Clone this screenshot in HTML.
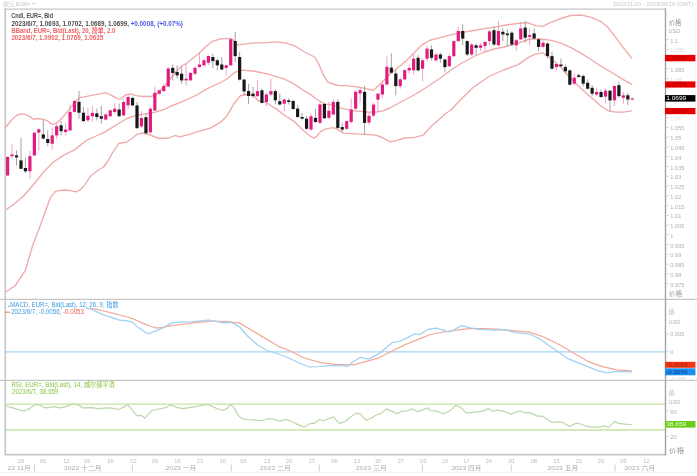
<!DOCTYPE html>
<html><head><meta charset="utf-8"><style>
html,body{margin:0;padding:0;background:#fff;overflow:hidden;width:697px;height:476px}
svg{display:block;filter:blur(0.25px)}
</style></head><body>
<svg width="697" height="476" viewBox="0 0 697 476" font-family='"Liberation Sans", "Noto Sans CJK SC", sans-serif'>
<rect width="697" height="476" fill="#fff"/>
<text x="3.4" y="5.7" font-size="5.2" fill="#c4c4c4" textLength="27" lengthAdjust="spacingAndGlyphs">欧元 EUR=</text>
<path d="M32 3.6h3.6" stroke="#cfcfcf" stroke-width="0.9"/>
<text x="612.8" y="5.6" font-size="5.2" fill="#c8c8c8" textLength="80.5" lengthAdjust="spacingAndGlyphs">2022/11/23 - 2023/06/16 (GMT)</text>
<polyline points="5.0,128.0 8.6,123.7 12.9,118.5 17.2,115.1 20.7,113.8 25.9,114.7 30.2,116.8 33.6,119.4 37.9,118.5 43.1,119.4 47.4,120.7 51.7,124.1 55.0,124.0 60.0,120.3 65.1,114.4 70.0,108.5 75.0,102.5 79.4,97.6 84.4,96.8 92.8,95.1 100.0,93.9 105.2,92.6 111.2,95.2 117.2,98.7 120.7,99.1 125.8,94.8 130.1,93.9 136.1,95.6 143.0,96.5 149.9,96.5 155.5,95.4 165.6,85.0 175.0,72.5 182.3,65.5 186.2,63.6 192.6,58.4 199.1,53.3 205.6,46.8 212.0,41.6 219.8,39.0 227.5,38.4 232.7,39.5 237.2,45.2 243.9,44.2 253.9,42.8 265.1,42.8 275.1,41.8 285.2,42.8 295.3,46.2 305.4,52.5 311.4,55.5 314.6,57.0 318.5,63.6 322.3,72.6 327.5,82.0 334.6,84.5 340.0,85.6 345.9,85.6 356.9,86.9 365.0,88.3 373.3,90.5 381.4,82.8 389.6,74.6 397.8,67.8 406.0,61.0 414.2,52.8 422.4,44.6 429.3,40.5 440.9,37.3 451.9,34.6 462.8,32.4 473.7,30.5 484.6,28.6 495.6,26.9 506.5,25.0 517.4,23.5 527.3,22.6 536.7,25.9 542.7,26.4 550.2,22.6 560.3,18.8 570.4,15.5 580.5,15.0 590.6,17.1 600.7,21.3 608.2,27.6 615.8,37.7 623.4,47.8 632.0,58.7" fill="none" stroke="#f0aaaa" stroke-width="1.35" stroke-linejoin="round"/>
<polyline points="5.0,210.5 13.4,204.5 23.5,196.0 33.6,184.5 43.7,171.9 53.7,161.8 63.8,155.1 73.9,150.1 86.8,140.2 95.0,136.5 103.6,132.6 112.0,127.6 120.4,122.5 127.0,118.5 135.4,115.6 145.4,113.9 155.5,112.2 165.6,108.8 170.0,106.5 182.9,101.3 195.8,95.5 208.8,87.8 221.7,82.0 228.1,78.1 234.6,72.3 242.4,70.1 252.7,71.0 257.9,72.0 266.8,73.8 275.7,76.4 284.6,79.1 293.6,83.6 302.5,89.8 311.4,95.2 318.6,100.5 325.7,104.1 332.9,105.0 340.0,107.9 354.3,110.8 367.8,112.0 375.9,112.2 383.0,110.8 390.0,108.0 397.0,104.0 404.6,100.0 411.5,96.5 422.4,90.0 430.0,85.0 441.0,77.5 451.0,70.0 462.0,63.0 474.1,56.5 483.0,52.5 494.0,49.0 504.0,47.0 518.2,43.2 530.0,39.0 540.2,39.0 550.2,40.2 560.3,42.8 570.4,47.3 580.5,52.9 590.6,59.2 600.7,66.0 610.7,71.8 620.8,78.1 632.0,84.7" fill="none" stroke="#f0aaaa" stroke-width="1.35" stroke-linejoin="round"/>
<polyline points="5.0,292.5 15.1,285.8 25.2,270.7 32.7,245.5 40.3,225.4 50.4,197.6 55.4,191.3 60.0,190.3 65.5,190.0 70.5,190.7 75.6,191.8 80.0,190.0 84.0,186.0 90.2,176.5 97.0,171.0 103.6,167.0 108.0,161.0 112.0,153.6 118.7,143.5 127.1,141.8 132.0,138.5 137.2,134.3 142.1,133.0 148.8,134.5 158.9,138.5 168.9,138.0 175.0,135.5 180.0,136.9 190.1,134.2 200.2,130.8 210.3,128.1 220.4,122.4 227.1,115.7 233.8,104.0 240.5,95.6 245.6,94.5 253.9,95.6 257.9,100.5 265.1,102.0 275.7,108.6 285.2,115.7 293.6,121.1 305.0,132.0 310.0,136.0 314.1,138.1 317.0,136.0 320.1,132.1 325.1,129.1 333.2,127.6 337.2,129.1 343.2,133.1 351.5,133.7 364.4,134.4 375.9,135.2 383.0,138.0 390.2,141.9 397.4,140.2 404.6,138.0 414.6,137.3 423.2,135.2 431.8,125.8 440.0,118.7 445.0,114.0 451.5,109.5 459.4,101.0 472.5,88.0 488.8,76.5 503.5,70.0 518.2,64.6 527.6,57.9 535.1,54.1 542.7,52.9 550.2,57.9 560.3,66.7 570.4,78.1 580.5,88.1 590.6,97.0 600.7,105.8 608.2,110.8 615.8,112.1 623.4,112.1 632.0,110.9" fill="none" stroke="#f0aaaa" stroke-width="1.35" stroke-linejoin="round"/>
<line x1="7.60" y1="156.0" x2="7.60" y2="176.0" stroke="#ee8cbc" stroke-width="0.8"/>
<rect x="6.00" y="157.0" width="3.2" height="18.5" fill="#e21c7e"/>
<line x1="12.06" y1="144.5" x2="12.06" y2="158.7" stroke="#ee8cbc" stroke-width="0.8"/>
<rect x="10.46" y="154.5" width="3.2" height="1.7" fill="#e21c7e"/>
<line x1="16.52" y1="150.3" x2="16.52" y2="165.5" stroke="#8c8c8c" stroke-width="0.8"/>
<rect x="14.92" y="155.4" width="3.2" height="2.0" fill="#181818"/>
<line x1="20.99" y1="137.7" x2="20.99" y2="168.8" stroke="#8c8c8c" stroke-width="0.8"/>
<rect x="19.39" y="160.4" width="3.2" height="8.4" fill="#181818"/>
<line x1="25.45" y1="158.0" x2="25.45" y2="173.0" stroke="#8c8c8c" stroke-width="0.8"/>
<rect x="23.85" y="168.0" width="3.2" height="3.3" fill="#181818"/>
<line x1="29.91" y1="151.0" x2="29.91" y2="179.0" stroke="#ee8cbc" stroke-width="0.8"/>
<rect x="28.31" y="156.2" width="3.2" height="15.1" fill="#e21c7e"/>
<line x1="34.37" y1="132.0" x2="34.37" y2="156.0" stroke="#ee8cbc" stroke-width="0.8"/>
<rect x="32.77" y="132.7" width="3.2" height="22.7" fill="#e21c7e"/>
<line x1="38.83" y1="128.5" x2="38.83" y2="151.0" stroke="#ee8cbc" stroke-width="0.8"/>
<rect x="37.23" y="129.3" width="3.2" height="3.4" fill="#e21c7e"/>
<line x1="43.30" y1="120.0" x2="43.30" y2="139.4" stroke="#8c8c8c" stroke-width="0.8"/>
<rect x="41.70" y="134.4" width="3.2" height="4.2" fill="#181818"/>
<line x1="47.76" y1="130.4" x2="47.76" y2="146.3" stroke="#8c8c8c" stroke-width="0.8"/>
<rect x="46.16" y="139.0" width="3.2" height="4.0" fill="#181818"/>
<line x1="52.22" y1="127.9" x2="52.22" y2="149.7" stroke="#ee8cbc" stroke-width="0.8"/>
<rect x="50.62" y="135.4" width="3.2" height="8.4" fill="#e21c7e"/>
<line x1="56.68" y1="123.5" x2="56.68" y2="138.8" stroke="#ee8cbc" stroke-width="0.8"/>
<rect x="55.08" y="126.2" width="3.2" height="9.2" fill="#e21c7e"/>
<line x1="61.15" y1="121.0" x2="61.15" y2="135.4" stroke="#8c8c8c" stroke-width="0.8"/>
<rect x="59.55" y="125.3" width="3.2" height="5.9" fill="#181818"/>
<line x1="65.61" y1="122.8" x2="65.61" y2="135.4" stroke="#ee8cbc" stroke-width="0.8"/>
<rect x="64.01" y="129.5" width="3.2" height="2.5" fill="#e21c7e"/>
<line x1="70.07" y1="104.3" x2="70.07" y2="131.2" stroke="#ee8cbc" stroke-width="0.8"/>
<rect x="68.47" y="111.9" width="3.2" height="18.5" fill="#e21c7e"/>
<line x1="74.53" y1="99.3" x2="74.53" y2="112.7" stroke="#ee8cbc" stroke-width="0.8"/>
<rect x="72.93" y="101.0" width="3.2" height="10.9" fill="#e21c7e"/>
<line x1="78.99" y1="90.9" x2="78.99" y2="118.6" stroke="#8c8c8c" stroke-width="0.8"/>
<rect x="77.39" y="101.8" width="3.2" height="10.9" fill="#181818"/>
<line x1="83.46" y1="106.8" x2="83.46" y2="122.0" stroke="#8c8c8c" stroke-width="0.8"/>
<rect x="81.86" y="112.7" width="3.2" height="8.4" fill="#181818"/>
<line x1="87.92" y1="107.8" x2="87.92" y2="122.0" stroke="#ee8cbc" stroke-width="0.8"/>
<rect x="86.32" y="115.8" width="3.2" height="4.5" fill="#e21c7e"/>
<line x1="92.38" y1="106.0" x2="92.38" y2="122.0" stroke="#ee8cbc" stroke-width="0.8"/>
<rect x="90.78" y="112.9" width="3.2" height="3.3" fill="#e21c7e"/>
<line x1="96.84" y1="108.7" x2="96.84" y2="120.4" stroke="#8c8c8c" stroke-width="0.8"/>
<rect x="95.24" y="113.4" width="3.2" height="3.6" fill="#181818"/>
<line x1="101.30" y1="106.0" x2="101.30" y2="123.8" stroke="#8c8c8c" stroke-width="0.8"/>
<rect x="99.70" y="116.2" width="3.2" height="2.5" fill="#181818"/>
<line x1="105.77" y1="112.8" x2="105.77" y2="120.4" stroke="#ee8cbc" stroke-width="0.8"/>
<rect x="104.17" y="114.5" width="3.2" height="5.1" fill="#e21c7e"/>
<line x1="110.23" y1="109.5" x2="110.23" y2="117.0" stroke="#ee8cbc" stroke-width="0.8"/>
<rect x="108.63" y="110.3" width="3.2" height="5.9" fill="#e21c7e"/>
<line x1="114.69" y1="102.8" x2="114.69" y2="113.7" stroke="#ee8cbc" stroke-width="0.8"/>
<rect x="113.09" y="108.7" width="3.2" height="3.3" fill="#e21c7e"/>
<line x1="119.15" y1="103.6" x2="119.15" y2="117.0" stroke="#8c8c8c" stroke-width="0.8"/>
<rect x="117.55" y="109.5" width="3.2" height="6.7" fill="#181818"/>
<line x1="123.62" y1="99.4" x2="123.62" y2="116.2" stroke="#ee8cbc" stroke-width="0.8"/>
<rect x="122.02" y="102.0" width="3.2" height="13.4" fill="#e21c7e"/>
<line x1="128.08" y1="94.4" x2="128.08" y2="109.5" stroke="#ee8cbc" stroke-width="0.8"/>
<rect x="126.48" y="97.0" width="3.2" height="8.3" fill="#e21c7e"/>
<line x1="132.54" y1="97.0" x2="132.54" y2="106.3" stroke="#8c8c8c" stroke-width="0.8"/>
<rect x="130.94" y="97.9" width="3.2" height="7.5" fill="#181818"/>
<line x1="137.00" y1="102.0" x2="137.00" y2="129.0" stroke="#8c8c8c" stroke-width="0.8"/>
<rect x="135.40" y="105.4" width="3.2" height="22.7" fill="#181818"/>
<line x1="141.46" y1="111.3" x2="141.46" y2="128.1" stroke="#ee8cbc" stroke-width="0.8"/>
<rect x="139.86" y="118.0" width="3.2" height="8.4" fill="#e21c7e"/>
<line x1="145.93" y1="113.0" x2="145.93" y2="134.0" stroke="#8c8c8c" stroke-width="0.8"/>
<rect x="144.33" y="117.2" width="3.2" height="16.0" fill="#181818"/>
<line x1="150.39" y1="107.0" x2="150.39" y2="134.0" stroke="#ee8cbc" stroke-width="0.8"/>
<rect x="148.79" y="108.8" width="3.2" height="23.5" fill="#e21c7e"/>
<line x1="154.85" y1="87.0" x2="154.85" y2="111.0" stroke="#ee8cbc" stroke-width="0.8"/>
<rect x="153.25" y="92.8" width="3.2" height="17.7" fill="#e21c7e"/>
<line x1="159.31" y1="89.5" x2="159.31" y2="95.3" stroke="#ee8cbc" stroke-width="0.8"/>
<rect x="157.71" y="90.3" width="3.2" height="3.4" fill="#e21c7e"/>
<line x1="163.77" y1="83.6" x2="163.77" y2="92.0" stroke="#ee8cbc" stroke-width="0.8"/>
<rect x="162.17" y="86.0" width="3.2" height="5.1" fill="#e21c7e"/>
<line x1="168.24" y1="66.8" x2="168.24" y2="87.5" stroke="#ee8cbc" stroke-width="0.8"/>
<rect x="166.64" y="68.5" width="3.2" height="18.0" fill="#e21c7e"/>
<line x1="172.70" y1="64.5" x2="172.70" y2="80.4" stroke="#8c8c8c" stroke-width="0.8"/>
<rect x="171.10" y="67.8" width="3.2" height="5.1" fill="#181818"/>
<line x1="177.16" y1="65.3" x2="177.16" y2="78.7" stroke="#8c8c8c" stroke-width="0.8"/>
<rect x="175.56" y="72.0" width="3.2" height="3.4" fill="#181818"/>
<line x1="181.62" y1="66.0" x2="181.62" y2="83.8" stroke="#8c8c8c" stroke-width="0.8"/>
<rect x="180.02" y="73.7" width="3.2" height="6.7" fill="#181818"/>
<line x1="186.09" y1="63.6" x2="186.09" y2="85.5" stroke="#ee8cbc" stroke-width="0.8"/>
<rect x="184.49" y="78.7" width="3.2" height="1.7" fill="#e21c7e"/>
<line x1="190.55" y1="72.0" x2="190.55" y2="80.4" stroke="#ee8cbc" stroke-width="0.8"/>
<rect x="188.95" y="72.9" width="3.2" height="7.5" fill="#e21c7e"/>
<line x1="195.01" y1="66.2" x2="195.01" y2="75.4" stroke="#ee8cbc" stroke-width="0.8"/>
<rect x="193.41" y="67.8" width="3.2" height="5.9" fill="#e21c7e"/>
<line x1="199.47" y1="52.7" x2="199.47" y2="67.8" stroke="#ee8cbc" stroke-width="0.8"/>
<rect x="197.87" y="64.5" width="3.2" height="2.5" fill="#e21c7e"/>
<line x1="203.93" y1="58.6" x2="203.93" y2="67.0" stroke="#ee8cbc" stroke-width="0.8"/>
<rect x="202.33" y="60.3" width="3.2" height="5.0" fill="#e21c7e"/>
<line x1="208.40" y1="55.2" x2="208.40" y2="65.3" stroke="#ee8cbc" stroke-width="0.8"/>
<rect x="206.80" y="56.0" width="3.2" height="6.8" fill="#e21c7e"/>
<line x1="212.86" y1="53.6" x2="212.86" y2="67.9" stroke="#8c8c8c" stroke-width="0.8"/>
<rect x="211.26" y="57.0" width="3.2" height="4.1" fill="#181818"/>
<line x1="217.32" y1="58.6" x2="217.32" y2="70.4" stroke="#8c8c8c" stroke-width="0.8"/>
<rect x="215.72" y="60.3" width="3.2" height="5.0" fill="#181818"/>
<line x1="221.78" y1="57.0" x2="221.78" y2="70.4" stroke="#8c8c8c" stroke-width="0.8"/>
<rect x="220.18" y="64.5" width="3.2" height="5.0" fill="#181818"/>
<line x1="226.24" y1="64.5" x2="226.24" y2="75.4" stroke="#ee8cbc" stroke-width="0.8"/>
<rect x="224.64" y="65.3" width="3.2" height="2.6" fill="#e21c7e"/>
<line x1="230.71" y1="37.6" x2="230.71" y2="66.2" stroke="#ee8cbc" stroke-width="0.8"/>
<rect x="229.11" y="39.3" width="3.2" height="26.0" fill="#e21c7e"/>
<line x1="235.17" y1="31.7" x2="235.17" y2="62.0" stroke="#8c8c8c" stroke-width="0.8"/>
<rect x="233.57" y="41.0" width="3.2" height="15.1" fill="#181818"/>
<line x1="239.63" y1="51.9" x2="239.63" y2="80.5" stroke="#8c8c8c" stroke-width="0.8"/>
<rect x="238.03" y="57.0" width="3.2" height="22.6" fill="#181818"/>
<line x1="244.09" y1="78.8" x2="244.09" y2="95.6" stroke="#8c8c8c" stroke-width="0.8"/>
<rect x="242.49" y="79.6" width="3.2" height="11.8" fill="#181818"/>
<line x1="248.56" y1="84.0" x2="248.56" y2="104.0" stroke="#8c8c8c" stroke-width="0.8"/>
<rect x="246.96" y="91.0" width="3.2" height="5.0" fill="#181818"/>
<line x1="253.02" y1="86.9" x2="253.02" y2="97.8" stroke="#8c8c8c" stroke-width="0.8"/>
<rect x="251.42" y="93.6" width="3.2" height="2.5" fill="#181818"/>
<line x1="257.48" y1="80.2" x2="257.48" y2="97.0" stroke="#ee8cbc" stroke-width="0.8"/>
<rect x="255.88" y="91.1" width="3.2" height="5.0" fill="#e21c7e"/>
<line x1="261.94" y1="88.6" x2="261.94" y2="103.7" stroke="#8c8c8c" stroke-width="0.8"/>
<rect x="260.34" y="90.3" width="3.2" height="12.6" fill="#181818"/>
<line x1="266.40" y1="92.8" x2="266.40" y2="106.2" stroke="#ee8cbc" stroke-width="0.8"/>
<rect x="264.80" y="94.5" width="3.2" height="7.5" fill="#e21c7e"/>
<line x1="270.87" y1="78.5" x2="270.87" y2="96.1" stroke="#ee8cbc" stroke-width="0.8"/>
<rect x="269.27" y="91.1" width="3.2" height="3.4" fill="#e21c7e"/>
<line x1="275.33" y1="89.4" x2="275.33" y2="104.5" stroke="#8c8c8c" stroke-width="0.8"/>
<rect x="273.73" y="91.1" width="3.2" height="9.2" fill="#181818"/>
<line x1="279.79" y1="93.6" x2="279.79" y2="105.4" stroke="#8c8c8c" stroke-width="0.8"/>
<rect x="278.19" y="101.2" width="3.2" height="3.3" fill="#181818"/>
<line x1="284.25" y1="98.7" x2="284.25" y2="111.3" stroke="#ee8cbc" stroke-width="0.8"/>
<rect x="282.65" y="99.5" width="3.2" height="4.2" fill="#e21c7e"/>
<line x1="288.71" y1="98.4" x2="288.71" y2="104.5" stroke="#8c8c8c" stroke-width="0.8"/>
<rect x="287.11" y="100.3" width="3.2" height="1.7" fill="#181818"/>
<line x1="293.18" y1="99.4" x2="293.18" y2="110.0" stroke="#8c8c8c" stroke-width="0.8"/>
<rect x="291.58" y="101.0" width="3.2" height="8.0" fill="#181818"/>
<line x1="297.64" y1="105.3" x2="297.64" y2="117.9" stroke="#8c8c8c" stroke-width="0.8"/>
<rect x="296.04" y="108.6" width="3.2" height="8.4" fill="#181818"/>
<line x1="302.10" y1="112.8" x2="302.10" y2="119.5" stroke="#8c8c8c" stroke-width="0.8"/>
<rect x="300.50" y="117.0" width="3.2" height="1.7" fill="#181818"/>
<line x1="306.56" y1="116.2" x2="306.56" y2="129.6" stroke="#8c8c8c" stroke-width="0.8"/>
<rect x="304.96" y="118.7" width="3.2" height="10.1" fill="#181818"/>
<line x1="311.03" y1="113.7" x2="311.03" y2="130.4" stroke="#ee8cbc" stroke-width="0.8"/>
<rect x="309.43" y="116.2" width="3.2" height="13.4" fill="#e21c7e"/>
<line x1="315.49" y1="108.6" x2="315.49" y2="122.9" stroke="#8c8c8c" stroke-width="0.8"/>
<rect x="313.89" y="117.9" width="3.2" height="4.1" fill="#181818"/>
<line x1="319.95" y1="101.9" x2="319.95" y2="123.7" stroke="#ee8cbc" stroke-width="0.8"/>
<rect x="318.35" y="104.4" width="3.2" height="18.5" fill="#e21c7e"/>
<line x1="324.41" y1="103.0" x2="324.41" y2="119.0" stroke="#8c8c8c" stroke-width="0.8"/>
<rect x="322.81" y="104.0" width="3.2" height="14.3" fill="#181818"/>
<line x1="328.87" y1="101.9" x2="328.87" y2="118.7" stroke="#ee8cbc" stroke-width="0.8"/>
<rect x="327.27" y="110.7" width="3.2" height="7.1" fill="#e21c7e"/>
<line x1="333.34" y1="99.4" x2="333.34" y2="115.3" stroke="#ee8cbc" stroke-width="0.8"/>
<rect x="331.74" y="101.9" width="3.2" height="12.6" fill="#e21c7e"/>
<line x1="337.80" y1="99.4" x2="337.80" y2="128.8" stroke="#8c8c8c" stroke-width="0.8"/>
<rect x="336.20" y="101.9" width="3.2" height="26.0" fill="#181818"/>
<line x1="342.26" y1="122.9" x2="342.26" y2="132.1" stroke="#8c8c8c" stroke-width="0.8"/>
<rect x="340.66" y="127.1" width="3.2" height="2.5" fill="#181818"/>
<line x1="346.72" y1="120.4" x2="346.72" y2="129.6" stroke="#ee8cbc" stroke-width="0.8"/>
<rect x="345.12" y="121.2" width="3.2" height="7.6" fill="#e21c7e"/>
<line x1="351.18" y1="98.5" x2="351.18" y2="123.7" stroke="#ee8cbc" stroke-width="0.8"/>
<rect x="349.58" y="109.5" width="3.2" height="12.5" fill="#e21c7e"/>
<line x1="355.65" y1="90.1" x2="355.65" y2="110.3" stroke="#ee8cbc" stroke-width="0.8"/>
<rect x="354.05" y="91.8" width="3.2" height="16.8" fill="#e21c7e"/>
<line x1="360.11" y1="88.4" x2="360.11" y2="102.7" stroke="#ee8cbc" stroke-width="0.8"/>
<rect x="358.51" y="90.1" width="3.2" height="3.4" fill="#e21c7e"/>
<line x1="364.57" y1="85.9" x2="364.57" y2="134.7" stroke="#8c8c8c" stroke-width="0.8"/>
<rect x="362.97" y="91.8" width="3.2" height="31.1" fill="#181818"/>
<line x1="369.03" y1="111.9" x2="369.03" y2="125.2" stroke="#ee8cbc" stroke-width="0.8"/>
<rect x="367.43" y="115.8" width="3.2" height="6.7" fill="#e21c7e"/>
<line x1="373.50" y1="102.9" x2="373.50" y2="117.2" stroke="#ee8cbc" stroke-width="0.8"/>
<rect x="371.90" y="104.6" width="3.2" height="10.9" fill="#e21c7e"/>
<line x1="377.96" y1="92.9" x2="377.96" y2="112.2" stroke="#ee8cbc" stroke-width="0.8"/>
<rect x="376.36" y="93.7" width="3.2" height="5.9" fill="#e21c7e"/>
<line x1="382.42" y1="82.8" x2="382.42" y2="98.7" stroke="#ee8cbc" stroke-width="0.8"/>
<rect x="380.82" y="84.5" width="3.2" height="10.0" fill="#e21c7e"/>
<line x1="386.88" y1="56.7" x2="386.88" y2="85.3" stroke="#ee8cbc" stroke-width="0.8"/>
<rect x="385.28" y="66.8" width="3.2" height="17.7" fill="#e21c7e"/>
<line x1="391.34" y1="53.4" x2="391.34" y2="73.5" stroke="#8c8c8c" stroke-width="0.8"/>
<rect x="389.74" y="67.6" width="3.2" height="5.1" fill="#181818"/>
<line x1="395.81" y1="70.2" x2="395.81" y2="95.4" stroke="#8c8c8c" stroke-width="0.8"/>
<rect x="394.21" y="73.5" width="3.2" height="12.6" fill="#181818"/>
<line x1="400.27" y1="77.7" x2="400.27" y2="88.7" stroke="#ee8cbc" stroke-width="0.8"/>
<rect x="398.67" y="79.4" width="3.2" height="6.7" fill="#e21c7e"/>
<line x1="404.73" y1="68.5" x2="404.73" y2="80.3" stroke="#ee8cbc" stroke-width="0.8"/>
<rect x="403.13" y="70.2" width="3.2" height="9.2" fill="#e21c7e"/>
<line x1="409.19" y1="64.5" x2="409.19" y2="73.8" stroke="#ee8cbc" stroke-width="0.8"/>
<rect x="407.59" y="67.9" width="3.2" height="2.5" fill="#e21c7e"/>
<line x1="413.65" y1="53.6" x2="413.65" y2="74.6" stroke="#ee8cbc" stroke-width="0.8"/>
<rect x="412.05" y="58.7" width="3.2" height="11.7" fill="#e21c7e"/>
<line x1="418.12" y1="55.3" x2="418.12" y2="71.3" stroke="#8c8c8c" stroke-width="0.8"/>
<rect x="416.52" y="57.8" width="3.2" height="12.6" fill="#181818"/>
<line x1="422.58" y1="58.7" x2="422.58" y2="81.3" stroke="#ee8cbc" stroke-width="0.8"/>
<rect x="420.98" y="60.3" width="3.2" height="8.4" fill="#e21c7e"/>
<line x1="427.04" y1="46.0" x2="427.04" y2="61.2" stroke="#ee8cbc" stroke-width="0.8"/>
<rect x="425.44" y="48.6" width="3.2" height="10.1" fill="#e21c7e"/>
<line x1="431.50" y1="45.2" x2="431.50" y2="60.3" stroke="#8c8c8c" stroke-width="0.8"/>
<rect x="429.90" y="49.4" width="3.2" height="8.4" fill="#181818"/>
<line x1="435.97" y1="52.8" x2="435.97" y2="62.0" stroke="#ee8cbc" stroke-width="0.8"/>
<rect x="434.37" y="54.5" width="3.2" height="5.8" fill="#e21c7e"/>
<line x1="440.43" y1="52.8" x2="440.43" y2="62.8" stroke="#8c8c8c" stroke-width="0.8"/>
<rect x="438.83" y="54.5" width="3.2" height="4.2" fill="#181818"/>
<line x1="444.89" y1="58.7" x2="444.89" y2="72.1" stroke="#8c8c8c" stroke-width="0.8"/>
<rect x="443.29" y="59.5" width="3.2" height="7.6" fill="#181818"/>
<line x1="449.35" y1="53.6" x2="449.35" y2="67.1" stroke="#ee8cbc" stroke-width="0.8"/>
<rect x="447.75" y="56.1" width="3.2" height="10.1" fill="#e21c7e"/>
<line x1="453.81" y1="40.3" x2="453.81" y2="57.0" stroke="#ee8cbc" stroke-width="0.8"/>
<rect x="452.21" y="41.1" width="3.2" height="15.1" fill="#e21c7e"/>
<line x1="458.28" y1="26.8" x2="458.28" y2="41.9" stroke="#ee8cbc" stroke-width="0.8"/>
<rect x="456.68" y="31.0" width="3.2" height="10.1" fill="#e21c7e"/>
<line x1="462.74" y1="24.3" x2="462.74" y2="45.3" stroke="#8c8c8c" stroke-width="0.8"/>
<rect x="461.14" y="31.0" width="3.2" height="7.6" fill="#181818"/>
<line x1="467.20" y1="40.3" x2="467.20" y2="56.2" stroke="#8c8c8c" stroke-width="0.8"/>
<rect x="465.60" y="41.1" width="3.2" height="13.4" fill="#181818"/>
<line x1="471.66" y1="42.8" x2="471.66" y2="56.2" stroke="#ee8cbc" stroke-width="0.8"/>
<rect x="470.06" y="44.5" width="3.2" height="10.0" fill="#e21c7e"/>
<line x1="476.12" y1="43.6" x2="476.12" y2="55.4" stroke="#8c8c8c" stroke-width="0.8"/>
<rect x="474.52" y="45.3" width="3.2" height="2.5" fill="#181818"/>
<line x1="480.59" y1="42.8" x2="480.59" y2="51.2" stroke="#ee8cbc" stroke-width="0.8"/>
<rect x="478.99" y="45.3" width="3.2" height="2.5" fill="#e21c7e"/>
<line x1="485.05" y1="41.1" x2="485.05" y2="51.2" stroke="#ee8cbc" stroke-width="0.8"/>
<rect x="483.45" y="41.9" width="3.2" height="4.2" fill="#e21c7e"/>
<line x1="489.51" y1="29.7" x2="489.51" y2="45.3" stroke="#ee8cbc" stroke-width="0.8"/>
<rect x="487.91" y="31.4" width="3.2" height="9.7" fill="#e21c7e"/>
<line x1="493.97" y1="26.8" x2="493.97" y2="46.1" stroke="#8c8c8c" stroke-width="0.8"/>
<rect x="492.37" y="30.2" width="3.2" height="14.3" fill="#181818"/>
<line x1="498.44" y1="20.9" x2="498.44" y2="46.1" stroke="#ee8cbc" stroke-width="0.8"/>
<rect x="496.84" y="31.0" width="3.2" height="14.3" fill="#e21c7e"/>
<line x1="502.90" y1="28.5" x2="502.90" y2="41.1" stroke="#8c8c8c" stroke-width="0.8"/>
<rect x="501.30" y="31.8" width="3.2" height="2.6" fill="#181818"/>
<line x1="507.36" y1="29.3" x2="507.36" y2="46.1" stroke="#8c8c8c" stroke-width="0.8"/>
<rect x="505.76" y="33.5" width="3.2" height="1.7" fill="#181818"/>
<line x1="511.82" y1="31.0" x2="511.82" y2="46.1" stroke="#8c8c8c" stroke-width="0.8"/>
<rect x="510.22" y="32.7" width="3.2" height="11.8" fill="#181818"/>
<line x1="516.28" y1="38.6" x2="516.28" y2="51.2" stroke="#ee8cbc" stroke-width="0.8"/>
<rect x="514.68" y="40.3" width="3.2" height="5.0" fill="#e21c7e"/>
<line x1="520.75" y1="21.8" x2="520.75" y2="40.3" stroke="#ee8cbc" stroke-width="0.8"/>
<rect x="519.15" y="28.5" width="3.2" height="10.9" fill="#e21c7e"/>
<line x1="525.21" y1="20.9" x2="525.21" y2="42.8" stroke="#8c8c8c" stroke-width="0.8"/>
<rect x="523.61" y="27.6" width="3.2" height="10.1" fill="#181818"/>
<line x1="529.67" y1="28.4" x2="529.67" y2="45.2" stroke="#ee8cbc" stroke-width="0.8"/>
<rect x="528.07" y="35.1" width="3.2" height="1.7" fill="#e21c7e"/>
<line x1="534.13" y1="28.4" x2="534.13" y2="39.3" stroke="#8c8c8c" stroke-width="0.8"/>
<rect x="532.53" y="33.4" width="3.2" height="5.1" fill="#181818"/>
<line x1="538.59" y1="38.5" x2="538.59" y2="51.1" stroke="#8c8c8c" stroke-width="0.8"/>
<rect x="536.99" y="39.3" width="3.2" height="7.6" fill="#181818"/>
<line x1="543.06" y1="40.2" x2="543.06" y2="48.6" stroke="#ee8cbc" stroke-width="0.8"/>
<rect x="541.46" y="42.7" width="3.2" height="4.2" fill="#e21c7e"/>
<line x1="547.52" y1="42.7" x2="547.52" y2="58.7" stroke="#8c8c8c" stroke-width="0.8"/>
<rect x="545.92" y="43.5" width="3.2" height="12.6" fill="#181818"/>
<line x1="551.98" y1="51.9" x2="551.98" y2="69.6" stroke="#8c8c8c" stroke-width="0.8"/>
<rect x="550.38" y="56.1" width="3.2" height="12.6" fill="#181818"/>
<line x1="556.44" y1="62.8" x2="556.44" y2="70.4" stroke="#ee8cbc" stroke-width="0.8"/>
<rect x="554.84" y="64.0" width="3.2" height="3.1" fill="#e21c7e"/>
<line x1="560.91" y1="58.7" x2="560.91" y2="67.1" stroke="#8c8c8c" stroke-width="0.8"/>
<rect x="559.31" y="64.5" width="3.2" height="1.7" fill="#181818"/>
<line x1="565.37" y1="64.5" x2="565.37" y2="73.8" stroke="#8c8c8c" stroke-width="0.8"/>
<rect x="563.77" y="67.1" width="3.2" height="4.2" fill="#181818"/>
<line x1="569.83" y1="69.6" x2="569.83" y2="85.5" stroke="#8c8c8c" stroke-width="0.8"/>
<rect x="568.23" y="70.4" width="3.2" height="14.3" fill="#181818"/>
<line x1="574.29" y1="73.5" x2="574.29" y2="85.3" stroke="#ee8cbc" stroke-width="0.8"/>
<rect x="572.69" y="77.7" width="3.2" height="5.9" fill="#e21c7e"/>
<line x1="578.75" y1="73.5" x2="578.75" y2="77.7" stroke="#8c8c8c" stroke-width="0.8"/>
<rect x="577.15" y="75.2" width="3.2" height="1.7" fill="#181818"/>
<line x1="583.22" y1="74.4" x2="583.22" y2="86.1" stroke="#8c8c8c" stroke-width="0.8"/>
<rect x="581.62" y="76.0" width="3.2" height="7.6" fill="#181818"/>
<line x1="587.68" y1="79.4" x2="587.68" y2="89.5" stroke="#8c8c8c" stroke-width="0.8"/>
<rect x="586.08" y="82.8" width="3.2" height="5.9" fill="#181818"/>
<line x1="592.14" y1="85.3" x2="592.14" y2="96.2" stroke="#8c8c8c" stroke-width="0.8"/>
<rect x="590.54" y="87.8" width="3.2" height="5.9" fill="#181818"/>
<line x1="596.60" y1="87.8" x2="596.60" y2="96.2" stroke="#ee8cbc" stroke-width="0.8"/>
<rect x="595.00" y="92.0" width="3.2" height="2.5" fill="#e21c7e"/>
<line x1="601.06" y1="89.5" x2="601.06" y2="98.0" stroke="#8c8c8c" stroke-width="0.8"/>
<rect x="599.46" y="92.0" width="3.2" height="5.0" fill="#181818"/>
<line x1="605.53" y1="88.6" x2="605.53" y2="103.5" stroke="#ee8cbc" stroke-width="0.8"/>
<rect x="603.93" y="90.7" width="3.2" height="5.9" fill="#e21c7e"/>
<line x1="609.99" y1="89.9" x2="609.99" y2="111.3" stroke="#8c8c8c" stroke-width="0.8"/>
<rect x="608.39" y="90.7" width="3.2" height="9.7" fill="#181818"/>
<line x1="614.45" y1="85.2" x2="614.45" y2="106.2" stroke="#ee8cbc" stroke-width="0.8"/>
<rect x="612.85" y="86.0" width="3.2" height="14.3" fill="#e21c7e"/>
<line x1="618.91" y1="81.8" x2="618.91" y2="97.8" stroke="#8c8c8c" stroke-width="0.8"/>
<rect x="617.31" y="85.2" width="3.2" height="10.9" fill="#181818"/>
<line x1="623.38" y1="92.0" x2="623.38" y2="103.7" stroke="#ee8cbc" stroke-width="0.8"/>
<rect x="621.78" y="95.3" width="3.2" height="2.5" fill="#e21c7e"/>
<line x1="627.84" y1="92.8" x2="627.84" y2="105.4" stroke="#8c8c8c" stroke-width="0.8"/>
<rect x="626.24" y="95.3" width="3.2" height="4.2" fill="#181818"/>
<line x1="632.30" y1="97.8" x2="632.30" y2="100.3" stroke="#ee8cbc" stroke-width="0.8"/>
<rect x="630.70" y="98.4" width="3.2" height="1.1" fill="#e21c7e"/>
<line x1="5" y1="351.8" x2="665" y2="351.8" stroke="#a6d4f2" stroke-width="1.2"/>
<polyline points="5.0,312.2 89.5,307.9 95.8,309.2 103.7,311.0 111.6,312.9 119.5,315.0 127.3,317.0 135.2,319.7 143.1,323.4 151.0,326.5 157.3,328.1 163.6,327.1 171.5,325.6 181.0,324.5 195.8,322.6 213.9,321.0 229.4,321.8 239.7,323.1 252.6,330.8 265.6,338.6 278.5,346.3 291.4,351.5 304.3,358.0 319.8,362.3 335.3,364.4 352.9,364.8 365.8,361.7 378.7,357.8 391.7,351.3 404.6,344.9 417.5,339.7 430.4,334.5 443.3,332.0 456.2,330.1 469.1,328.6 484.6,328.6 500.1,329.4 514.6,330.9 529.3,332.1 543.9,337.0 558.5,344.3 573.2,352.8 587.8,361.3 602.4,366.7 617.1,369.9 632.0,370.9" fill="none" stroke="#f4a898" stroke-width="1.25" stroke-linejoin="round"/>
<polyline points="8.0,305.7 89.5,308.7 95.8,311.4 103.7,315.0 111.6,317.4 119.5,320.2 127.3,320.8 132.1,322.1 138.4,327.6 146.3,333.1 149.4,333.5 155.8,330.8 163.6,327.6 171.5,322.9 181.0,322.1 190.7,321.8 208.7,320.0 221.7,322.6 232.0,322.6 239.7,327.0 247.5,336.0 257.8,345.0 268.1,351.0 278.5,354.0 288.8,358.0 299.1,363.0 309.5,367.0 319.8,366.5 330.1,365.7 340.0,365.5 347.7,366.3 352.9,361.7 360.7,357.3 368.4,359.1 378.7,353.9 386.5,347.4 392.9,342.3 399.4,341.5 407.1,337.9 414.9,333.8 420.1,334.5 427.8,329.4 435.6,328.1 443.3,330.1 448.5,332.0 453.6,330.1 461.4,325.5 469.1,327.6 479.5,329.4 495.0,330.1 505.3,329.6 515.6,332.7 529.3,334.0 539.0,338.2 548.8,345.5 558.5,352.1 568.3,358.9 578.0,362.6 587.8,366.7 597.6,370.6 607.3,373.0 614.6,371.6 622.0,371.6 632.0,371.9" fill="none" stroke="#9ed0f0" stroke-width="1.25" stroke-linejoin="round"/>
<line x1="5" y1="404.1" x2="665" y2="404.1" stroke="#c4e4a4" stroke-width="1.3"/>
<line x1="5" y1="430" x2="665" y2="430" stroke="#c4e4a4" stroke-width="1.3"/>
<polyline points="5.8,406.0 12.9,407.9 19.4,409.9 24.5,410.8 29.7,408.6 34.9,404.7 38.7,404.7 43.9,407.3 47.8,407.9 54.2,406.6 60.7,407.9 65.9,406.6 69.7,405.1 73.6,403.8 78.8,405.1 82.6,407.9 85.0,407.9 91.5,407.7 97.9,408.6 104.4,408.2 110.8,407.9 118.6,409.5 123.7,406.9 127.6,404.7 131.5,409.2 136.7,415.7 141.8,415.7 145.0,418.2 148.3,414.4 152.1,410.5 158.6,409.0 165.1,407.9 170.2,404.9 176.5,407.3 182.9,408.6 189.4,407.7 195.8,406.6 202.3,405.3 207.4,404.3 212.6,406.6 217.8,409.0 222.9,410.5 226.8,408.6 230.7,404.3 234.6,408.6 238.4,415.7 242.3,418.9 247.5,419.5 253.9,419.8 261.5,420.7 267.9,418.7 273.1,419.1 279.5,421.3 286.0,419.4 289.9,420.7 296.3,423.9 304.1,427.1 309.2,423.9 314.4,423.2 319.6,419.4 323.4,420.7 328.6,418.7 333.8,416.8 337.6,422.0 340.0,423.4 345.2,421.5 351.6,416.3 356.8,413.1 360.7,414.4 365.8,420.2 371.0,418.2 376.2,415.0 381.3,413.1 386.5,408.9 391.7,411.1 396.8,413.7 402.0,411.1 407.1,410.8 412.3,408.9 417.5,411.8 422.6,409.9 427.8,407.9 430.2,410.5 436.6,411.1 443.1,413.7 449.5,411.1 456.0,405.3 461.2,407.9 466.3,413.1 471.5,412.4 476.7,411.8 483.1,411.1 488.3,408.6 492.1,411.1 498.6,410.2 505.1,411.8 511.5,414.4 515.2,412.3 520.3,411.0 525.5,412.9 530.7,412.9 537.1,416.1 542.3,416.1 547.4,419.4 552.6,422.6 557.8,421.7 562.9,422.6 569.4,426.5 574.6,423.9 578.4,423.2 584.9,425.8 591.6,427.1 598.1,427.1 604.5,425.8 608.4,427.4 612.3,423.9 614.9,421.3 617.4,423.2 622.6,423.9 627.8,424.5 632.0,424.5" fill="none" stroke="#bcd8aa" stroke-width="1.2" stroke-linejoin="round"/>
<line x1="0" y1="299.4" x2="697" y2="299.4" stroke="#c6c6c6" stroke-width="1.2"/>
<line x1="0" y1="380.3" x2="697" y2="380.3" stroke="#c6c6c6" stroke-width="1.2"/>
<line x1="4" y1="9.1" x2="666" y2="9.1" stroke="#c6c6c6" stroke-width="1.4"/>
<line x1="5" y1="454.6" x2="666" y2="454.6" stroke="#c6c6c6" stroke-width="1.6"/>
<line x1="5.3" y1="8.5" x2="5.3" y2="455.3" stroke="#c6c6c6" stroke-width="1.6"/>
<line x1="665.5" y1="8.5" x2="665.5" y2="455.3" stroke="#a4a4a4" stroke-width="1.4"/>
<line x1="0" y1="472.3" x2="697" y2="472.3" stroke="#ebebeb" stroke-width="0.8"/>
<line x1="695.6" y1="10" x2="695.6" y2="472" stroke="#f2f2f2" stroke-width="0.8"/>
<text x="11.2" y="18" font-size="6.4" font-weight="bold" textLength="41.8" lengthAdjust="spacingAndGlyphs"><tspan fill="#4c4c4c">Cndl, EUR=, Bid</tspan></text>
<text x="11.6" y="25.6" font-size="6.4" font-weight="bold" textLength="171.3" lengthAdjust="spacingAndGlyphs"><tspan fill="#4c4c4c">2023/6/7, 1.0693, 1.0702, 1.0689, 1.0699, </tspan><tspan fill="#4a58e0">+0.0008, (+0.07%)</tspan></text>
<text x="11.4" y="33.2" font-size="6.4" font-weight="bold" textLength="103.8" lengthAdjust="spacingAndGlyphs"><tspan fill="#f06262">BBand, EUR=, Bid(Last), 20, 简单, 2.0</tspan></text>
<text x="11.4" y="40.4" font-size="6.4" font-weight="bold" textLength="91.8" lengthAdjust="spacingAndGlyphs"><tspan fill="#f06262">2023/6/7, 1.0902, 1.0769, 1.0635</tspan></text>
<rect x="7" y="301.3" width="113" height="6.6" fill="#fff"/>
<rect x="7" y="307.9" width="79" height="7" fill="#fff"/>
<path d="M8 306.3h2.4" stroke="#6ab0e8" stroke-width="1"/>
<path d="M5 312.2h5.4" stroke="#f08070" stroke-width="1"/>
<text x="10.3" y="306.6" font-size="6.4" textLength="108.2" lengthAdjust="spacingAndGlyphs"><tspan fill="#3c9ae0">MACD, EUR=, Bid(Last), 12, 26, 9, 指数</tspan></text>
<text x="11.2" y="313.8" font-size="6.4" textLength="72.8" lengthAdjust="spacingAndGlyphs"><tspan fill="#3c9ae0">2023/6/7, -0.0056, </tspan><tspan fill="#f05a48">-0.0053</tspan></text>
<text x="11.4" y="387.1" font-size="6.4" textLength="103.5" lengthAdjust="spacingAndGlyphs"><tspan fill="#88c448">RSI, EUR=, Bid(Last), 14, 威尔德平滑</tspan></text>
<text x="12" y="393.9" font-size="6.4" textLength="46.5" lengthAdjust="spacingAndGlyphs"><tspan fill="#88c448">2023/6/7, 38.659</tspan></text>
<text x="668.8" y="24.6" font-size="6.3" fill="#969696" textLength="12.5" lengthAdjust="spacingAndGlyphs">价格</text>
<text x="668.5" y="32.5" font-size="5.6" fill="#a8a8a8" textLength="11.6" lengthAdjust="spacingAndGlyphs">USD</text>
<line x1="666.6" y1="39.6" x2="668.6" y2="39.6" stroke="#c4c4c4" stroke-width="0.8"/>
<text x="670.3" y="42.6" font-size="6.2" fill="#b0b0b0" textLength="7.89" lengthAdjust="spacingAndGlyphs">1.1</text>
<line x1="666.6" y1="49.4" x2="668.6" y2="49.4" stroke="#c4c4c4" stroke-width="0.8"/>
<text x="670.3" y="52.3" font-size="6.2" fill="#d8d8d8" textLength="14.2" lengthAdjust="spacingAndGlyphs">1.095</text>
<line x1="666.6" y1="59.1" x2="668.6" y2="59.1" stroke="#c4c4c4" stroke-width="0.8"/>
<line x1="666.6" y1="68.9" x2="668.6" y2="68.9" stroke="#c4c4c4" stroke-width="0.8"/>
<text x="670.3" y="71.8" font-size="6.2" fill="#b0b0b0" textLength="14.2" lengthAdjust="spacingAndGlyphs">1.085</text>
<line x1="666.6" y1="78.7" x2="668.6" y2="78.7" stroke="#c4c4c4" stroke-width="0.8"/>
<text x="670.3" y="81.6" font-size="6.2" fill="#d8d8d8" textLength="11.04" lengthAdjust="spacingAndGlyphs">1.08</text>
<line x1="666.6" y1="88.4" x2="668.6" y2="88.4" stroke="#c4c4c4" stroke-width="0.8"/>
<line x1="666.6" y1="98.2" x2="668.6" y2="98.2" stroke="#c4c4c4" stroke-width="0.8"/>
<line x1="666.6" y1="107.9" x2="668.6" y2="107.9" stroke="#c4c4c4" stroke-width="0.8"/>
<line x1="666.6" y1="117.7" x2="668.6" y2="117.7" stroke="#c4c4c4" stroke-width="0.8"/>
<text x="670.3" y="120.7" font-size="6.2" fill="#eaeaea" textLength="11.04" lengthAdjust="spacingAndGlyphs">1.06</text>
<line x1="666.6" y1="127.5" x2="668.6" y2="127.5" stroke="#c4c4c4" stroke-width="0.8"/>
<text x="670.3" y="130.4" font-size="6.2" fill="#b0b0b0" textLength="14.2" lengthAdjust="spacingAndGlyphs">1.055</text>
<line x1="666.6" y1="137.2" x2="668.6" y2="137.2" stroke="#c4c4c4" stroke-width="0.8"/>
<text x="670.3" y="140.2" font-size="6.2" fill="#b0b0b0" textLength="11.04" lengthAdjust="spacingAndGlyphs">1.05</text>
<line x1="666.6" y1="147.0" x2="668.6" y2="147.0" stroke="#c4c4c4" stroke-width="0.8"/>
<text x="670.3" y="150.0" font-size="6.2" fill="#b0b0b0" textLength="14.2" lengthAdjust="spacingAndGlyphs">1.045</text>
<line x1="666.6" y1="156.8" x2="668.6" y2="156.8" stroke="#c4c4c4" stroke-width="0.8"/>
<text x="670.3" y="159.7" font-size="6.2" fill="#b0b0b0" textLength="11.04" lengthAdjust="spacingAndGlyphs">1.04</text>
<line x1="666.6" y1="166.5" x2="668.6" y2="166.5" stroke="#c4c4c4" stroke-width="0.8"/>
<text x="670.3" y="169.5" font-size="6.2" fill="#b0b0b0" textLength="14.2" lengthAdjust="spacingAndGlyphs">1.035</text>
<line x1="666.6" y1="176.3" x2="668.6" y2="176.3" stroke="#c4c4c4" stroke-width="0.8"/>
<text x="670.3" y="179.2" font-size="6.2" fill="#b0b0b0" textLength="11.04" lengthAdjust="spacingAndGlyphs">1.03</text>
<line x1="666.6" y1="186.1" x2="668.6" y2="186.1" stroke="#c4c4c4" stroke-width="0.8"/>
<text x="670.3" y="189.0" font-size="6.2" fill="#b0b0b0" textLength="14.2" lengthAdjust="spacingAndGlyphs">1.025</text>
<line x1="666.6" y1="195.8" x2="668.6" y2="195.8" stroke="#c4c4c4" stroke-width="0.8"/>
<text x="670.3" y="198.8" font-size="6.2" fill="#b0b0b0" textLength="11.04" lengthAdjust="spacingAndGlyphs">1.02</text>
<line x1="666.6" y1="205.6" x2="668.6" y2="205.6" stroke="#c4c4c4" stroke-width="0.8"/>
<text x="670.3" y="208.5" font-size="6.2" fill="#b0b0b0" textLength="14.2" lengthAdjust="spacingAndGlyphs">1.015</text>
<line x1="666.6" y1="215.4" x2="668.6" y2="215.4" stroke="#c4c4c4" stroke-width="0.8"/>
<text x="670.3" y="218.3" font-size="6.2" fill="#b0b0b0" textLength="11.04" lengthAdjust="spacingAndGlyphs">1.01</text>
<line x1="666.6" y1="225.1" x2="668.6" y2="225.1" stroke="#c4c4c4" stroke-width="0.8"/>
<text x="670.3" y="228.1" font-size="6.2" fill="#b0b0b0" textLength="14.2" lengthAdjust="spacingAndGlyphs">1.005</text>
<line x1="666.6" y1="234.9" x2="668.6" y2="234.9" stroke="#c4c4c4" stroke-width="0.8"/>
<text x="670.3" y="237.8" font-size="6.2" fill="#b0b0b0" textLength="3.16" lengthAdjust="spacingAndGlyphs">1</text>
<line x1="666.6" y1="244.6" x2="668.6" y2="244.6" stroke="#c4c4c4" stroke-width="0.8"/>
<text x="670.3" y="247.6" font-size="6.2" fill="#b0b0b0" textLength="14.2" lengthAdjust="spacingAndGlyphs">0.995</text>
<line x1="666.6" y1="254.4" x2="668.6" y2="254.4" stroke="#c4c4c4" stroke-width="0.8"/>
<text x="670.3" y="257.4" font-size="6.2" fill="#b0b0b0" textLength="11.04" lengthAdjust="spacingAndGlyphs">0.99</text>
<line x1="666.6" y1="264.2" x2="668.6" y2="264.2" stroke="#c4c4c4" stroke-width="0.8"/>
<text x="670.3" y="267.1" font-size="6.2" fill="#b0b0b0" textLength="14.2" lengthAdjust="spacingAndGlyphs">0.985</text>
<line x1="666.6" y1="273.9" x2="668.6" y2="273.9" stroke="#c4c4c4" stroke-width="0.8"/>
<text x="670.3" y="276.9" font-size="6.2" fill="#b0b0b0" textLength="11.04" lengthAdjust="spacingAndGlyphs">0.98</text>
<line x1="666.6" y1="283.7" x2="668.6" y2="283.7" stroke="#c4c4c4" stroke-width="0.8"/>
<text x="670.3" y="286.7" font-size="6.2" fill="#b0b0b0" textLength="14.2" lengthAdjust="spacingAndGlyphs">0.975</text>
<text x="668.8" y="295.9" font-size="6.3" fill="#a0a0a0" textLength="13.5" lengthAdjust="spacingAndGlyphs">价格</text>
<rect x="665" y="54.9" width="30.4" height="6.4" fill="#e80000"/><text x="666.2" y="60.0" font-size="5.4" fill="#b00000" textLength="20" lengthAdjust="spacingAndGlyphs">1.0902</text>
<rect x="665" y="81.4" width="30.4" height="6.2" fill="#e80000"/><text x="666.2" y="86.4" font-size="5.4" fill="#b00000" textLength="20" lengthAdjust="spacingAndGlyphs">1.0769</text>
<rect x="665" y="95.1" width="30.4" height="6.5" fill="#000000"/><text x="666.2" y="100.2" font-size="5.4" fill="#ffffff" textLength="20" lengthAdjust="spacingAndGlyphs">1.0699</text>
<rect x="665" y="108" width="30.4" height="6.2" fill="#e80000"/><text x="666.2" y="113.0" font-size="5.4" fill="#b00000" textLength="20" lengthAdjust="spacingAndGlyphs">1.0635</text>
<text x="668.8" y="314.3" font-size="5.6" fill="#b0b0b0">值</text>
<text x="668.5" y="323.8" font-size="5.6" fill="#b0b0b0" textLength="11.6" lengthAdjust="spacingAndGlyphs">USD</text>
<line x1="666.6" y1="334" x2="668.6" y2="334" stroke="#c4c4c4" stroke-width="0.8"/>
<text x="670.3" y="336.4" font-size="6.2" fill="#b0b0b0" textLength="14.2" lengthAdjust="spacingAndGlyphs">0.005</text>
<line x1="666.6" y1="351.6" x2="668.6" y2="351.6" stroke="#c4c4c4" stroke-width="0.8"/>
<text x="670.3" y="354.1" font-size="6.2" fill="#b0b0b0" textLength="3.16" lengthAdjust="spacingAndGlyphs">0</text>
<text x="670.3" y="380.6" font-size="6.2" fill="#dcdcdc" textLength="16.09" lengthAdjust="spacingAndGlyphs">-0.005</text>
<rect x="665" y="361.8" width="30.4" height="6.0" fill="#f03818"/><text x="666.2" y="366.7" font-size="5.4" fill="#a42000" textLength="21.5" lengthAdjust="spacingAndGlyphs">-0.0053</text>
<rect x="665" y="368.3" width="30.4" height="7.0" fill="#2090f0"/><text x="666.2" y="373.7" font-size="5.4" fill="#003494" textLength="21.5" lengthAdjust="spacingAndGlyphs">-0.0056</text>
<text x="668.8" y="395.0" font-size="5.6" fill="#b0b0b0">值</text>
<text x="668.5" y="403.8" font-size="5.6" fill="#b0b0b0" textLength="11.6" lengthAdjust="spacingAndGlyphs">USD</text>
<line x1="666.6" y1="410.8" x2="668.6" y2="410.8" stroke="#c4c4c4" stroke-width="0.8"/>
<text x="670.3" y="413.5" font-size="6.2" fill="#b0b0b0" textLength="6.31" lengthAdjust="spacingAndGlyphs">60</text>
<line x1="666.6" y1="436.4" x2="668.6" y2="436.4" stroke="#c4c4c4" stroke-width="0.8"/>
<text x="670.3" y="439.1" font-size="6.2" fill="#b0b0b0" textLength="6.31" lengthAdjust="spacingAndGlyphs">20</text>
<rect x="665" y="421" width="30.4" height="6.6" fill="#66cc14"/><text x="666.2" y="426.2" font-size="5.4" fill="#eaffd8" textLength="20" lengthAdjust="spacingAndGlyphs">38.659</text>
<text x="668.8" y="453.0" font-size="6.3" fill="#a0a0a0" textLength="15.5" lengthAdjust="spacingAndGlyphs">价格</text>
<text x="21" y="462.7" font-size="6.0" fill="#bcbcbc" text-anchor="middle" textLength="6.34" lengthAdjust="spacingAndGlyphs">28</text>
<text x="43" y="462.7" font-size="6.0" fill="#bcbcbc" text-anchor="middle" textLength="6.34" lengthAdjust="spacingAndGlyphs">05</text>
<text x="66.3" y="462.7" font-size="6.0" fill="#bcbcbc" text-anchor="middle" textLength="6.34" lengthAdjust="spacingAndGlyphs">12</text>
<text x="87" y="462.7" font-size="6.0" fill="#bcbcbc" text-anchor="middle" textLength="6.34" lengthAdjust="spacingAndGlyphs">19</text>
<text x="110.5" y="462.7" font-size="6.0" fill="#bcbcbc" text-anchor="middle" textLength="6.34" lengthAdjust="spacingAndGlyphs">26</text>
<text x="133.4" y="462.7" font-size="6.0" fill="#bcbcbc" text-anchor="middle" textLength="6.34" lengthAdjust="spacingAndGlyphs">02</text>
<text x="155" y="462.7" font-size="6.0" fill="#bcbcbc" text-anchor="middle" textLength="6.34" lengthAdjust="spacingAndGlyphs">09</text>
<text x="177.5" y="462.7" font-size="6.0" fill="#bcbcbc" text-anchor="middle" textLength="6.34" lengthAdjust="spacingAndGlyphs">16</text>
<text x="200" y="462.7" font-size="6.0" fill="#bcbcbc" text-anchor="middle" textLength="6.34" lengthAdjust="spacingAndGlyphs">23</text>
<text x="222.7" y="462.7" font-size="6.0" fill="#bcbcbc" text-anchor="middle" textLength="6.34" lengthAdjust="spacingAndGlyphs">30</text>
<text x="243.5" y="462.7" font-size="6.0" fill="#bcbcbc" text-anchor="middle" textLength="6.34" lengthAdjust="spacingAndGlyphs">06</text>
<text x="267" y="462.7" font-size="6.0" fill="#bcbcbc" text-anchor="middle" textLength="6.34" lengthAdjust="spacingAndGlyphs">13</text>
<text x="289.2" y="462.7" font-size="6.0" fill="#bcbcbc" text-anchor="middle" textLength="6.34" lengthAdjust="spacingAndGlyphs">20</text>
<text x="311.8" y="462.7" font-size="6.0" fill="#bcbcbc" text-anchor="middle" textLength="6.34" lengthAdjust="spacingAndGlyphs">27</text>
<text x="334.4" y="462.7" font-size="6.0" fill="#bcbcbc" text-anchor="middle" textLength="6.34" lengthAdjust="spacingAndGlyphs">06</text>
<text x="357" y="462.7" font-size="6.0" fill="#bcbcbc" text-anchor="middle" textLength="6.34" lengthAdjust="spacingAndGlyphs">13</text>
<text x="378.3" y="462.7" font-size="6.0" fill="#bcbcbc" text-anchor="middle" textLength="6.34" lengthAdjust="spacingAndGlyphs">20</text>
<text x="400.9" y="462.7" font-size="6.0" fill="#bcbcbc" text-anchor="middle" textLength="6.34" lengthAdjust="spacingAndGlyphs">27</text>
<text x="423.5" y="462.7" font-size="6.0" fill="#bcbcbc" text-anchor="middle" textLength="6.34" lengthAdjust="spacingAndGlyphs">03</text>
<text x="445" y="462.7" font-size="6.0" fill="#bcbcbc" text-anchor="middle" textLength="6.34" lengthAdjust="spacingAndGlyphs">10</text>
<text x="466.5" y="462.7" font-size="6.0" fill="#bcbcbc" text-anchor="middle" textLength="6.34" lengthAdjust="spacingAndGlyphs">17</text>
<text x="488.8" y="462.7" font-size="6.0" fill="#bcbcbc" text-anchor="middle" textLength="6.34" lengthAdjust="spacingAndGlyphs">24</text>
<text x="511.8" y="462.7" font-size="6.0" fill="#bcbcbc" text-anchor="middle" textLength="6.34" lengthAdjust="spacingAndGlyphs">01</text>
<text x="533.8" y="462.7" font-size="6.0" fill="#bcbcbc" text-anchor="middle" textLength="6.34" lengthAdjust="spacingAndGlyphs">08</text>
<text x="556.4" y="462.7" font-size="6.0" fill="#bcbcbc" text-anchor="middle" textLength="6.34" lengthAdjust="spacingAndGlyphs">15</text>
<text x="579" y="462.7" font-size="6.0" fill="#bcbcbc" text-anchor="middle" textLength="6.34" lengthAdjust="spacingAndGlyphs">22</text>
<text x="601" y="462.7" font-size="6.0" fill="#bcbcbc" text-anchor="middle" textLength="6.34" lengthAdjust="spacingAndGlyphs">29</text>
<text x="623.5" y="462.7" font-size="6.0" fill="#bcbcbc" text-anchor="middle" textLength="6.34" lengthAdjust="spacingAndGlyphs">05</text>
<text x="646.4" y="462.7" font-size="6.0" fill="#bcbcbc" text-anchor="middle" textLength="6.34" lengthAdjust="spacingAndGlyphs">12</text>
<text x="7.8" y="469.7" font-size="6.1" fill="#acacac" textLength="23" lengthAdjust="spacingAndGlyphs">22 11月</text>
<text x="64" y="469.7" font-size="6.1" fill="#acacac" textLength="37.6" lengthAdjust="spacingAndGlyphs">2022 十二月</text>
<text x="165.5" y="469.7" font-size="6.1" fill="#acacac" textLength="31" lengthAdjust="spacingAndGlyphs">2023 一月</text>
<text x="259.8" y="469.7" font-size="6.1" fill="#acacac" textLength="31" lengthAdjust="spacingAndGlyphs">2023 二月</text>
<text x="355.8" y="469.7" font-size="6.1" fill="#acacac" textLength="31" lengthAdjust="spacingAndGlyphs">2023 三月</text>
<text x="451.4" y="469.7" font-size="6.1" fill="#acacac" textLength="30" lengthAdjust="spacingAndGlyphs">2023 四月</text>
<text x="547.5" y="469.7" font-size="6.1" fill="#acacac" textLength="31" lengthAdjust="spacingAndGlyphs">2023 五月</text>
<text x="624.2" y="469.7" font-size="6.1" fill="#acacac" textLength="31" lengthAdjust="spacingAndGlyphs">2023 六月</text>
<line x1="34.4" y1="464.4" x2="34.4" y2="471.2" stroke="#c4c4c4" stroke-width="0.8"/>
<line x1="132.3" y1="464.4" x2="132.3" y2="471.2" stroke="#c4c4c4" stroke-width="0.8"/>
<line x1="231.3" y1="464.4" x2="231.3" y2="471.2" stroke="#c4c4c4" stroke-width="0.8"/>
<line x1="319.3" y1="464.4" x2="319.3" y2="471.2" stroke="#c4c4c4" stroke-width="0.8"/>
<line x1="422.4" y1="464.4" x2="422.4" y2="471.2" stroke="#c4c4c4" stroke-width="0.8"/>
<line x1="511.2" y1="464.4" x2="511.2" y2="471.2" stroke="#c4c4c4" stroke-width="0.8"/>
<line x1="615.1" y1="464.4" x2="615.1" y2="471.2" stroke="#c4c4c4" stroke-width="0.8"/>
</svg>
</body></html>
